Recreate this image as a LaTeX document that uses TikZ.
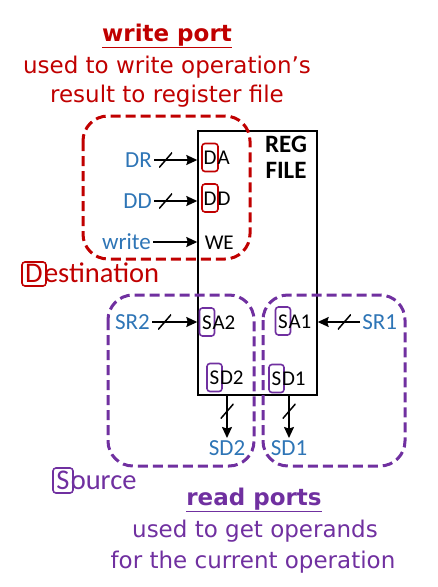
\documentclass[tikz,border=0pt]{standalone}
\usepackage{fontspec}
\setmainfont{Carlito}
\newfontfamily\verd{DejaVu Sans}
\usetikzlibrary{arrows.meta}
\definecolor{portred}{RGB}{192,0,0}
\definecolor{portpurple}{RGB}{112,48,160}
\definecolor{sigblue}{RGB}{46,117,182}
\begin{document}
\begin{tikzpicture}[x=1pt, y=-1pt, line width=1.5pt, >={Stealth[length=11pt,width=10pt,inset=1.5pt]},
  sig/.style={text=sigblue, font=\fontsize{23}{26}\selectfont, inner sep=1.5pt, text height=15pt, text depth=0pt},
  port/.style={font=\fontsize{21}{24}\selectfont, inner sep=0pt, text height=14pt, text depth=0pt},
  letterbox/.style={port, draw, rounded corners=3pt, line width=1.6pt, minimum width=16pt, minimum height=28pt},
  sbox/.style={letterbox, draw=portpurple, minimum width=15pt},
  initbox/.style={draw, rounded corners=3pt, line width=1.6pt, inner sep=0pt, font=\fontsize{28.5}{30}\selectfont, text height=17pt, text depth=0pt},
  initrest/.style={anchor=base west, inner sep=0pt, font=\fontsize{28.5}{30}\selectfont},
  region/.style={line width=3pt, dash pattern=on 10pt off 5pt, rounded corners=25pt},
  slash/.style={inner sep=0pt, minimum width=13pt, minimum height=15pt, path picture={\draw[-, line width=1.5pt] (path picture bounding box.south west) -- (path picture bounding box.north east);}},
  note/.style={font=\verd\fontsize{23}{29}\selectfont, anchor=base},
  title/.style={note, font=\verd\bfseries\fontsize{23}{29}\selectfont}]
  \useasboundingbox (0,0) rectangle (437,587);

  \node[draw, line width=1.4pt, minimum width=119pt, minimum height=264pt, inner sep=0pt] (reg) at (257.5,263) {};
  \node[font=\bfseries\fontsize{25}{26}\selectfont, align=center] (regname) at (286,157) {REG\\FILE};

  \node[sig, anchor=east] (dr) at (154,160) {DR};
  \node[sig, anchor=east] (ddin) at (154,201) {DD};
  \node[sig, anchor=east] (wr) at (153,242) {write};
  \draw[->] (dr) -- node[slash, pos=.27] {} (dr -| reg.west);
  \draw[->] (ddin) -- node[slash, pos=.27] {} (ddin -| reg.west);
  \draw[->] (wr) -- (wr -| reg.west);
  \node[letterbox, draw=portred] (pdaD) at (210,157.5) {D};
  \node[port, anchor=base west] (pda) at ([xshift=-2pt]pdaD.base east) {A};
  \node[letterbox, draw=portred] (pddD) at (210,198) {D};
  \node[port, anchor=base west] (pdd) at ([xshift=-2pt]pddD.base east) {D};
  \node[port, anchor=west] (pwe) at (204,242) {WE};

  \node[sig, anchor=east] (sr2) at (152,322) {SR2};
  \node[sig, anchor=west] (sr1) at (360,322) {SR1};
  \draw[->] (sr2) -- node[slash, pos=.28] {} (sr2 -| reg.west);
  \draw[->] (sr1) -- node[slash, pos=.37] {} (sr1 -| reg.east);
  \node[sbox] (psa2S) at (207,322) {S};
  \node[port, anchor=base west] (psa2) at ([xshift=-3.5pt]psa2S.base east) {A2};
  \node[sbox] (psd2S) at (214.5,377.5) {S};
  \node[port, anchor=base west] (psd2) at ([xshift=-3.5pt]psd2S.base east) {D2};
  \node[sbox] (psa1S) at (283,321) {S};
  \node[port, anchor=base west] (psa1) at ([xshift=-3.5pt]psa1S.base east) {A1};
  \node[sbox] (psd1S) at (276.5,378.5) {S};
  \node[port, anchor=base west] (psd1) at ([xshift=-3.5pt]psd1S.base east) {D1};
  \node[sig, anchor=north] (sd2) at (227,438) {SD2};
  \node[sig, anchor=north] (sd1) at (289,438) {SD1};
  \draw[->] (sd2 |- reg.south) -- node[slash, pos=.37] {} (sd2);
  \draw[->] (sd1 |- reg.south) -- node[slash, pos=.37] {} (sd1);

  \draw[region, portred] (83,116) rectangle (250,259);
  \draw[region, portpurple] (108,295) rectangle (254,466);
  \draw[region, portpurple] (263,295) rectangle (405,466);

  \node[title, text=portred] (wtitle) at (167,41) {\underline{write port}};
  \node[note, text=portred] (wline1) at (167,73) {used to write operation’s};
  \node[note, text=portred] (wline2) at (167,102) {result to register file};
  \node[initbox, draw=portred, text=portred, minimum width=24pt, minimum height=24pt] (dstD) at (34,274) {D};
  \node[initrest, text=portred] (dst) at ([xshift=-3.5pt]dstD.base east) {estination};

  \node[initbox, draw=portpurple, text=portpurple, minimum width=20pt, minimum height=25pt] (srcS) at (63,480.5) {S};
  \node[initrest, text=portpurple] (src) at ([xshift=-3.8pt]srcS.base east) {ource};
  \node[title, text=portpurple] (rtitle) at (254,505) {\underline{read ports}};
  \node[note, text=portpurple] (rline1) at (255,537) {used to get operands};
  \node[note, text=portpurple] (rline2) at (253,568) {for the current operation};
\end{tikzpicture}
\end{document}
